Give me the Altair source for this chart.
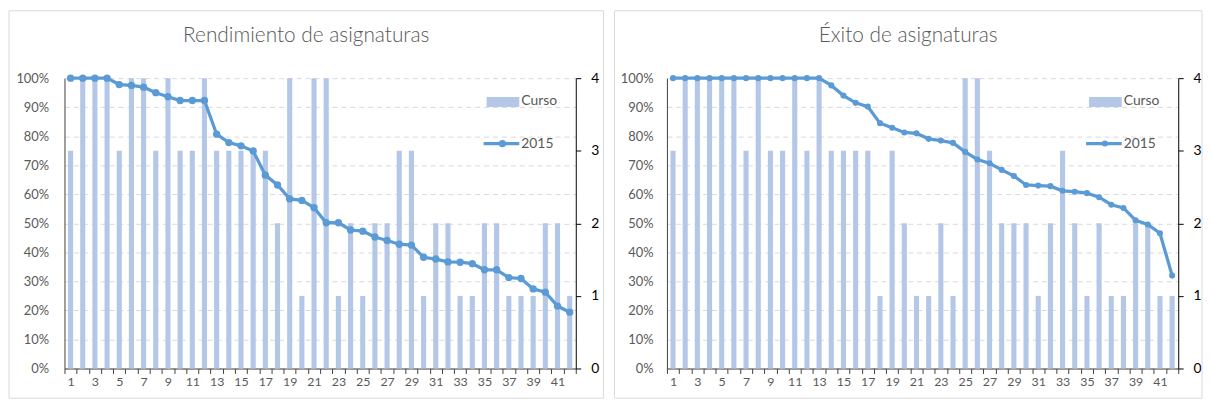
import altair as alt
import pandas as pd

# ---- data ----
cats = list(range(1, 43))
rend_curso = [3, 4, 4, 4, 3, 4, 4, 3, 4, 3, 3, 4, 3, 3, 3, 3, 3, 2, 4, 1,
              4, 4, 1, 2, 1, 2, 2, 3, 3, 1, 2, 2, 1, 1, 2, 2, 1, 1, 1, 2,
              2, 1]
rend_2015 = [1.0, 1.0, 1.0, 1.0, 0.978, 0.975, 0.969, 0.950, 0.936, 0.923,
             0.923, 0.923, 0.807, 0.778, 0.767, 0.749, 0.666, 0.632, 0.584, 0.579,
             0.554, 0.502, 0.502, 0.477, 0.473, 0.453, 0.441, 0.428, 0.425, 0.383,
             0.377, 0.367, 0.366, 0.361, 0.340, 0.340, 0.313, 0.310, 0.274, 0.263,
             0.215, 0.194]
exito_curso = [3, 4, 4, 4, 4, 4, 3, 4, 3, 3, 4, 3, 4, 3, 3, 3, 3, 1, 3, 2,
               1, 1, 2, 1, 4, 4, 3, 2, 2, 2, 1, 2, 3, 2, 1, 2, 1, 1, 2, 2,
               1, 1]
exito_2015 = [1.0, 1.0, 1.0, 1.0, 1.0, 1.0, 1.0, 1.0, 1.0, 1.0,
              1.0, 1.0, 1.0, 0.975, 0.940, 0.915, 0.902, 0.845, 0.829, 0.813,
              0.810, 0.791, 0.785, 0.777, 0.746, 0.720, 0.707, 0.684, 0.663, 0.632,
              0.630, 0.628, 0.612, 0.609, 0.604, 0.590, 0.564, 0.553, 0.510, 0.496,
              0.466, 0.320]
titles = ["Rendimiento de asignaturas", "Éxito de asignaturas"]
legend_labels = ["Curso", "2015"]
pct_ticks = [0, 0.1, 0.2, 0.3, 0.4, 0.5, 0.6, 0.7, 0.8, 0.9, 1.0]
count_ticks = [0, 1, 2, 3, 4]

BAR = "#B4C7E7"
LINE = "#5B9BD5"
GRAY = "#595959"
FONT = "Lato"
W, H = 516, 293


def panel(title, curso, v2015, fl, fr, pt_size, lab_pad):
    df = pd.DataFrame({"n": cats, "curso": curso, "v2015": v2015})
    xenc = alt.X("n:O", scale=alt.Scale(paddingInner=0, paddingOuter=0),
                 axis=alt.Axis(title=None, labelAngle=0, tickBand="extent",
                               labelExpr="datum.value % 2 == 1 ? datum.label : ''",
                               labelFont=FONT, labelFontSize=12.5, labelColor=GRAY,
                               domainColor="#404040", tickColor="#404040",
                               tickSize=5, labelPadding=2, grid=False))
    one = alt.Data(values=[{"t": title}])
    frame = alt.Chart(one).mark_rect(fill="white", fillOpacity=0, stroke="#D9D9D9",
                                     strokeWidth=1).encode(
        x=alt.value(-fl), x2=alt.value(W + fr), y=alt.value(-68), y2=alt.value(H + 30))
    ttl = alt.Chart(one).mark_text(font=FONT, fontSize=21, fontWeight=300, color=GRAY,
                                   baseline="middle", align="center").encode(
        text="t:N", x=alt.value((W + fr - fl) / 2), y=alt.value(-43))
    bars = alt.Chart(df).mark_bar(color=BAR, width=alt.RelativeBandSize(0.42)).encode(
        x=xenc,
        y=alt.Y("curso:Q", scale=alt.Scale(domain=[0, 4]),
                axis=alt.Axis(orient="right", title=None, values=count_ticks, grid=False,
                              labelFont=FONT, labelFontSize=14, labelColor="#000000",
                              domainColor="#000000", tickColor="#000000", tickSize=5,
                              labelPadding=10)))
    line = alt.Chart(df).mark_line(
        color=LINE, strokeWidth=3.3,
        point=alt.OverlayMarkDef(size=pt_size, filled=True, color=LINE, opacity=1)).encode(
        x="n:O",
        y=alt.Y("v2015:Q", scale=alt.Scale(domain=[0, 1]),
                axis=alt.Axis(orient="left", title=None, format=".0%", values=pct_ticks,
                              grid=True, gridColor="#D9D9D9", gridDash=[5, 4],
                              labelFont=FONT, labelFontSize=13, labelColor=GRAY,
                              domainColor="#404040", ticks=False, labelPadding=lab_pad)))
    sw = alt.Chart(alt.Data(values=[{"l": legend_labels[0]}])).mark_rect(color=BAR).encode(
        x=alt.value(W - 90), x2=alt.value(W - 57), y=alt.value(19), y2=alt.value(29))
    lr = alt.Chart(alt.Data(values=[{"l": legend_labels[1]}])).mark_rule(color=LINE, strokeWidth=3.3).encode(
        x=alt.value(W - 93), x2=alt.value(W - 57), y=alt.value(66))
    lp = alt.Chart(alt.Data(values=[{"l": legend_labels[1]}])).mark_point(
        filled=True, color=LINE, size=pt_size, opacity=1).encode(
        x=alt.value(W - 74), y=alt.value(66))
    lt1 = alt.Chart(alt.Data(values=[{"l": legend_labels[0]}])).mark_text(
        font=FONT, fontSize=14, color=GRAY, align="left", baseline="middle").encode(
        text="l:N", x=alt.value(W - 55), y=alt.value(23))
    lt2 = alt.Chart(alt.Data(values=[{"l": legend_labels[1]}])).mark_text(
        font=FONT, fontSize=14, color=GRAY, align="left", baseline="middle").encode(
        text="l:N", x=alt.value(W - 55), y=alt.value(66))
    return alt.layer(frame, ttl, bars, line, sw, lr, lp, lt1, lt2).resolve_scale(
        y="independent").properties(width=W, height=H)


left = panel(titles[0], rend_curso, rend_2015, 56, 28, 55, 16)
right = panel(titles[1], exito_curso, exito_2015, 53, 24, 38, 14)

chart = alt.hconcat(left, right, spacing=9, padding=0).configure_view(stroke=None)

chart.save("out.html", embed_options={"renderer": "svg", "actions": False})
